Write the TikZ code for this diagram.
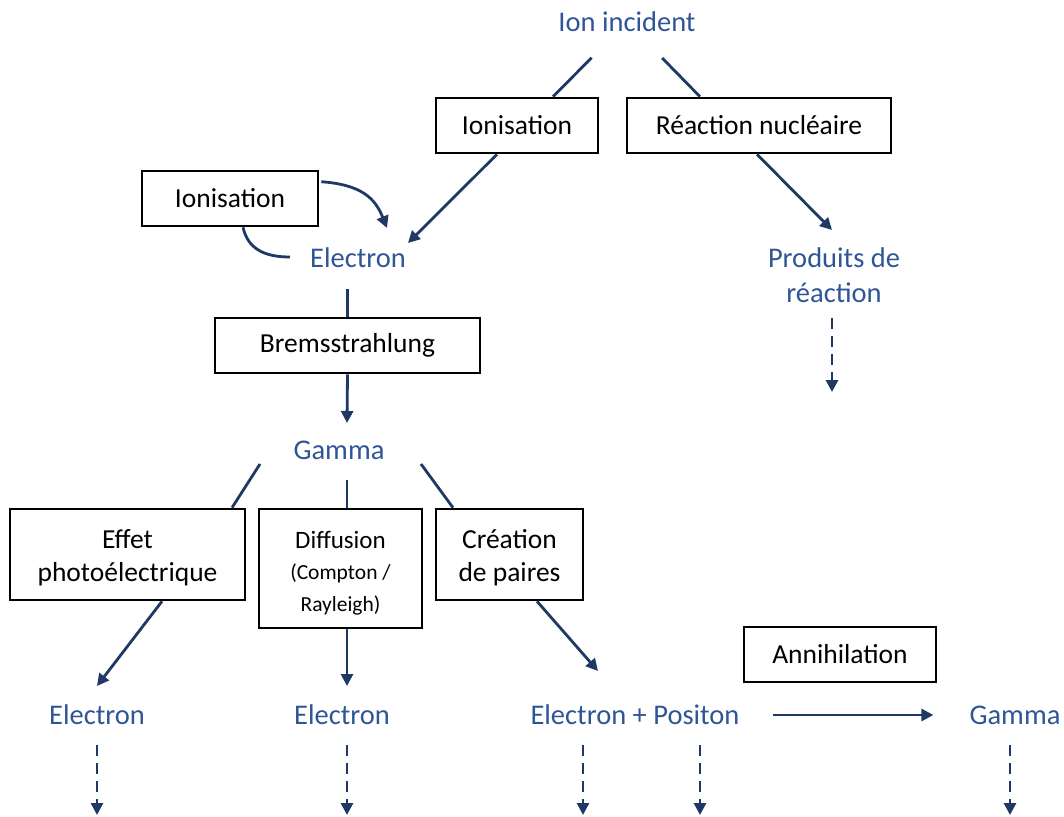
\documentclass[tikz,border=0pt]{standalone}
\usepackage{fontspec}
\setmainfont{Carlito}
\usetikzlibrary{arrows.meta,calc}
\definecolor{lblue}{HTML}{2F5597}
\definecolor{navy}{HTML}{1F3864}
\begin{document}
\begin{tikzpicture}[x=1pt,y=-1pt,
 box/.style={draw=black,line width=2.6pt,inner sep=0pt,align=center,font=\fontsize{27.5}{33}\selectfont},
 lbl/.style={text=lblue,inner sep=0pt,align=center,font=\fontsize{28.5}{35}\selectfont},
 conn/.style={draw=navy,line width=2.8pt},
 arr/.style={conn,-{Triangle[length=12pt,width=12pt]}},
 darr/.style={arr,dash pattern=on 11pt off 7pt}]
\useasboundingbox (0,0) rectangle (1064,816);
% nodes
\node[lbl] (ion) at (627,22) {Ion incident};
\node[box,minimum width=162pt,minimum height=55pt] (ionis1) at (517,125.5) {Ionisation};
\node[box,minimum width=264pt,minimum height=55pt] (reac) at (759,125.5) {Réaction nucléaire};
\node[box,minimum width=176pt,minimum height=55pt] (ionis2) at (230,198.5) {Ionisation};
\node[lbl] (elec0) at (358,258) {Electron};
\node[lbl] (prod) at (834,275) {Produits de\\réaction};
\node[box,minimum width=265pt,minimum height=55pt] (brem) at (347.5,345.5) {Bremsstrahlung};
\node[lbl] (gam1) at (339,450) {Gamma};
\node[box,minimum width=235pt,minimum height=91pt] (effet) at (127.5,554.5) {\rule{0pt}{26pt}Effet\\photoélectrique};
\node[box,minimum width=163pt,minimum height=119pt,font=\fontsize{21.5}{31.5}\selectfont] (diff) at (340.5,568.5) {{\fontsize{25}{31.5}\selectfont\rule{0pt}{32pt}Diffusion}\\(Compton /\\Rayleigh)\strut};
\node[box,minimum width=147pt,minimum height=91pt] (crea) at (509.5,554.5) {\rule{0pt}{26pt}Création\\de paires};
\node[lbl] (el1) at (97,715) {Electron};
\node[lbl] (el2) at (342,715) {Electron};
\node[lbl] (pair) at (635,715) {Electron + Positon};
\node[box,minimum width=192pt,minimum height=55pt] (anni) at (840,654.5) {Annihilation};
\node[lbl] (gam2) at (1015,715) {Gamma};
% free ends
\coordinate (dprod) at (832,392);
\coordinate (d1) at (97,815);
\coordinate (d2) at (347,815);
\coordinate (d3) at (583,815);
\coordinate (d4) at (700,815);
\coordinate (d5) at (1010,815);
% connectors
\draw[conn,shorten <=36pt] (ion) -- ($(ionis1.north)+(36,0)$);
\draw[conn,shorten <=36pt] (ion) -- ($(reac.north)+(-59,0)$);
\draw[arr] ($(ionis1.south)+(-20,0)$) -- ($(elec0)+(50,-15)$);
\draw[arr] ($(ionis2.north east)+(2,12)$) .. controls +(40,3) and +(-12,-30) .. ($(elec0)+(29,-30)$);
\draw[conn] ($(ionis2.south)+(13,0)$) .. controls +(5,22) and +(-25,0) .. ($(elec0)+(-68,-1)$);
\draw[conn] ($(brem.north)+(0,-28)$) -- (brem.north);
\draw[arr] (brem.south) -- ($(gam1)+(8,-27)$);
\draw[conn] ($(gam1)+(-79,14)$) -- ($(effet.north)+(104.5,0)$);
\draw[conn] ($(gam1)+(8,30)$) -- ($(diff.north)+(6.5,0)$);
\draw[conn] ($(gam1)+(82,14)$) -- ($(crea.north)+(-56.5,0)$);
\draw[arr] ($(effet.south)+(34.5,0)$) -- ($(el1)+(0,-29)$);
\draw[arr] ($(diff.south)+(6.5,0)$) -- ($(el2)+(5,-29)$);
\draw[arr] ($(crea.south)+(27.5,0)$) -- ($(pair)+(-37,-44)$);
\draw[arr] ($(pair.east)+(33,0)$) -- ($(gam2.west)+(-36,0)$);
\draw[arr] ($(reac.south)+(-2,0)$) -- ($(prod)+(-2,-45)$);
\draw[darr] ($(prod)+(-2,43)$) -- (dprod);
\draw[darr] ($(el1)+(0,30)$) -- (d1);
\draw[darr] ($(el2)+(5,30)$) -- (d2);
\draw[darr] ($(pair)+(-52,30)$) -- (d3);
\draw[darr] ($(pair)+(65,30)$) -- (d4);
\draw[darr] ($(gam2)+(-5,30)$) -- (d5);
\end{tikzpicture}
\end{document}
